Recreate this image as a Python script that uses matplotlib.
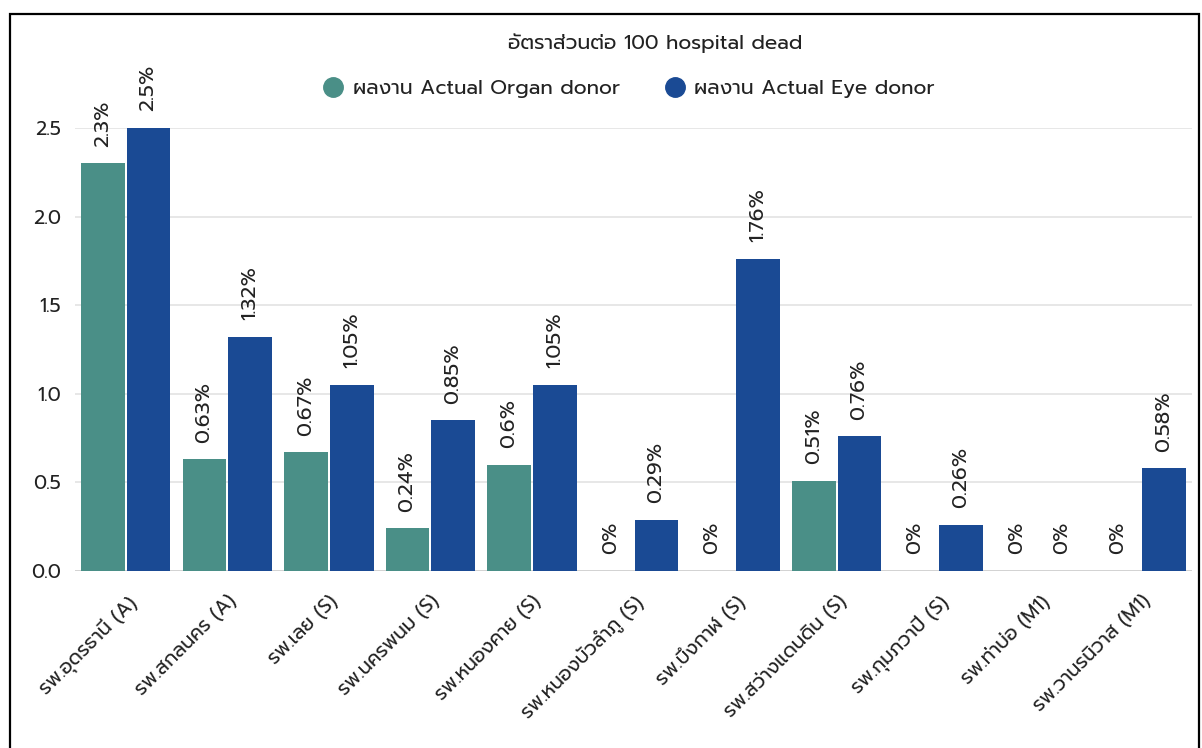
import matplotlib
matplotlib.use("Agg")
import matplotlib.pyplot as plt
import numpy as np
from matplotlib.lines import Line2D
from matplotlib.patches import Rectangle

plt.rcParams["font.family"] = ["Prompt", "DejaVu Sans"]
plt.rcParams["font.weight"] = "normal"

hospitals = ["รพ.อุดรธานี (A)", "รพ.สกลนคร (A)", "รพ.เลย (S)", "รพ.นครพนม (S)",
             "รพ.หนองคาย (S)", "รพ.หนองบัวลำภู (S)", "รพ.บึงกาฬ (S)",
             "รพ.สว่างแดนดิน (S)", "รพ.กุมภวาปี (S)", "รพ.ท่าบ่อ (M1)",
             "รพ.วานรนิวาส (M1)"]
organ = [2.3, 0.63, 0.67, 0.24, 0.6, 0, 0, 0.51, 0, 0, 0]
eye = [2.5, 1.32, 1.05, 0.85, 1.05, 0.29, 1.76, 0.76, 0.26, 0, 0.58]
series_names = ["ผลงาน Actual Organ donor", "ผลงาน Actual Eye donor"]
title = "อัตราส่วนต่อ 100 hospital dead"

C_ORGAN = "#4a8f87"
C_EYE = "#1a4a94"
TXT = "#222222"

fig = plt.figure(figsize=(12.02, 7.48), dpi=100)
ax = fig.add_axes([75 / 1202, 1 - 571 / 748, (1192 - 75) / 1202, (571 - 128) / 748])

x = np.arange(len(hospitals))
w = 0.43
off = 0.225
b1 = ax.bar(x - off, organ, w, color=C_ORGAN, zorder=3)
b2 = ax.bar(x + off, eye, w, color=C_EYE, zorder=3)

# rotated value labels above each bar
for bars, vals in ((b1, organ), (b2, eye)):
    for r, v in zip(bars, vals):
        ax.annotate(f"{v:g}%", (r.get_x() + r.get_width() / 2, v),
                    xytext=(0, 12), textcoords="offset points",
                    rotation=90, ha="center", va="bottom",
                    fontsize=15, color=TXT, annotation_clip=False)

ax.set_xlim(-0.5, len(hospitals) - 0.5)
ax.set_ylim(0, 2.5)
ax.set_yticks([0, 0.5, 1.0, 1.5, 2.0, 2.5])
ax.set_yticklabels([f"{t:.1f}" for t in ax.get_yticks()])
ax.set_xticks(x)
ax.set_xticklabels(hospitals, rotation=45, ha="right", va="top",
                   rotation_mode="anchor")
ax.tick_params(axis="both", length=0, labelsize=14, colors=TXT)
ax.tick_params(axis="y", pad=10)
ax.tick_params(axis="x", pad=15)
ax.grid(axis="y", color="#e3e3e3", lw=1.2, zorder=0)
for s in ax.spines.values():
    s.set_visible(False)
ax.axhline(0, color="#cfcfcf", lw=1.2, zorder=2)

fig.text(655 / 1202, 1 - 43 / 748, title, ha="center", va="center",
         fontsize=14.7, color=TXT)
handles = [Line2D([], [], ls="", marker="o", ms=14, color=c) for c in (C_ORGAN, C_EYE)]
fig.legend(handles, series_names, loc="center",
           bbox_to_anchor=(629 / 1202, 1 - 89 / 748), ncol=2, frameon=False,
           fontsize=14.7, handlelength=1.0, columnspacing=2.2,
           handletextpad=0.45, labelcolor=TXT)

# black frame around the whole picture
fig.add_artist(Rectangle((10 / 1202, -0.02), 1189 / 1202, 1.02 - 14 / 748,
                         transform=fig.transFigure, fill=False,
                         edgecolor="black", lw=1.6))

fig.savefig("out.png", dpi=100)
